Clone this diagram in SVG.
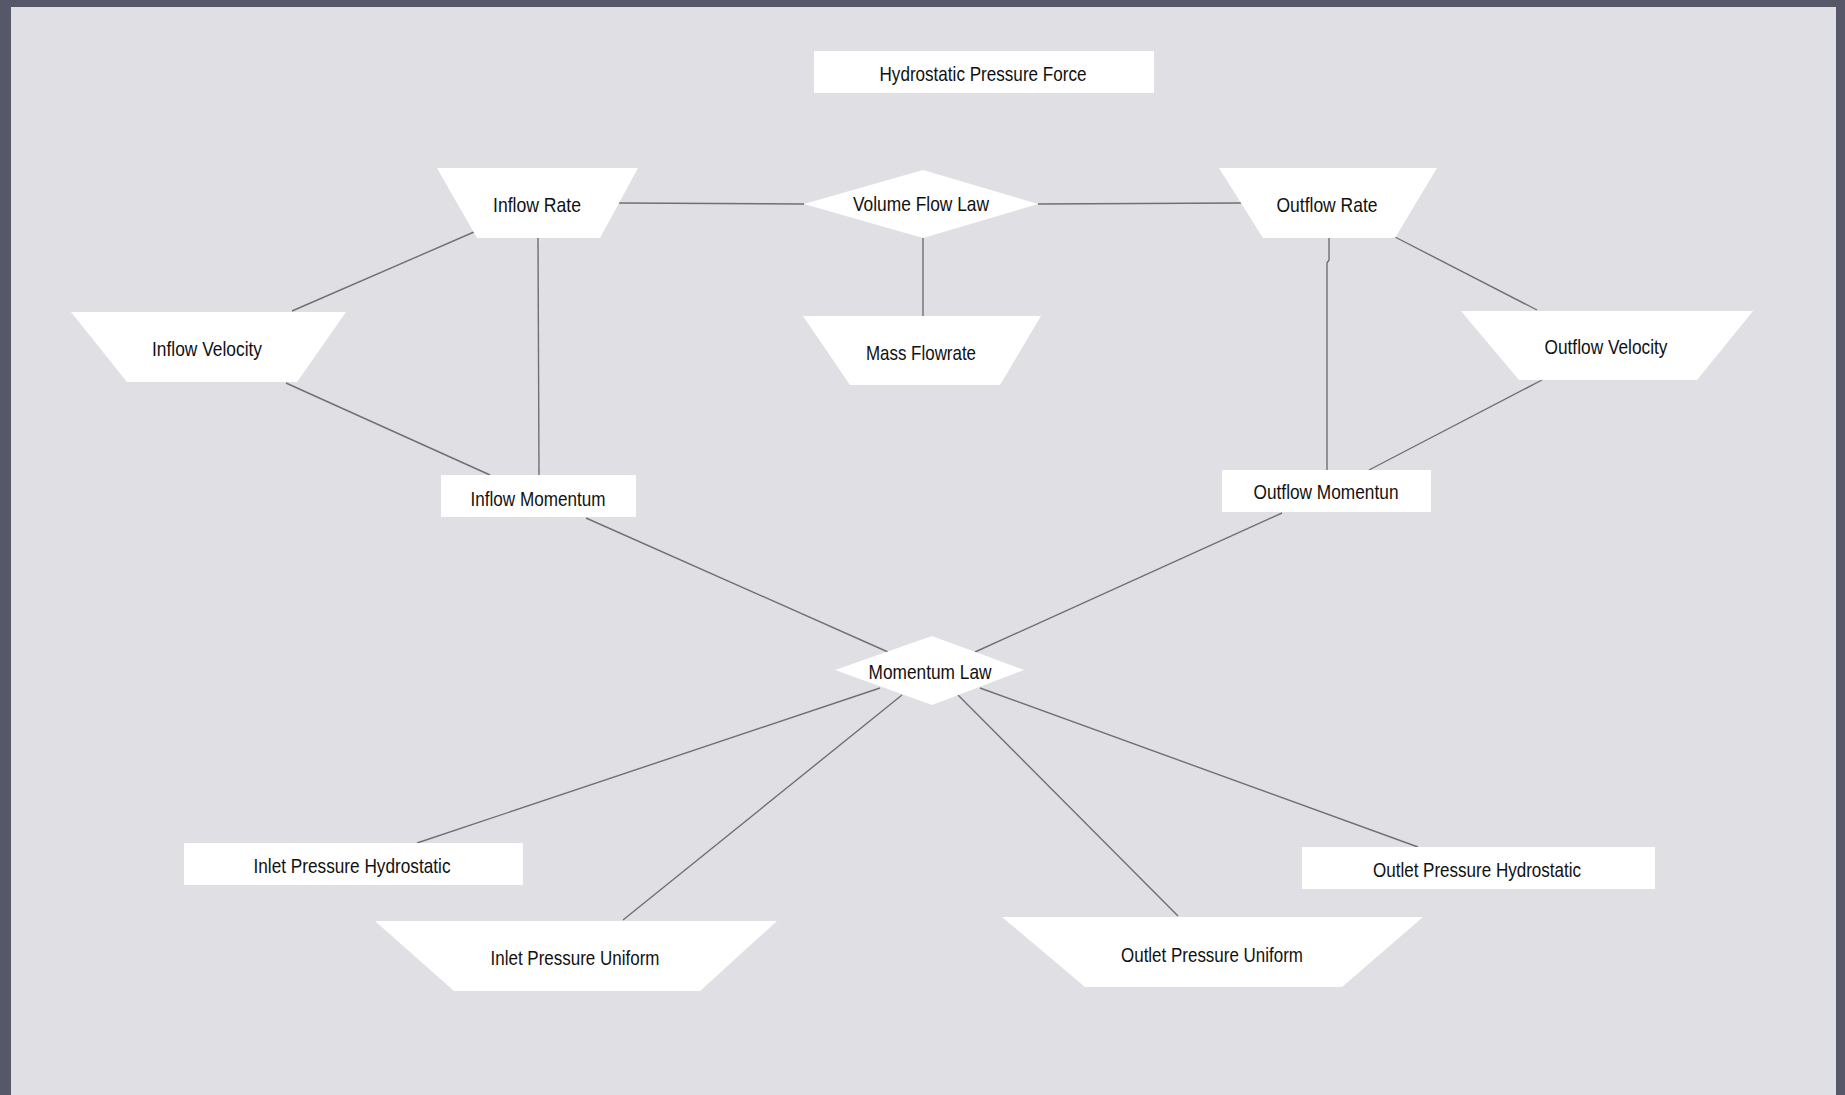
<svg xmlns="http://www.w3.org/2000/svg" width="1845" height="1095" viewBox="0 0 1845 1095">
<style>
.node{fill:#ffffff;stroke:none}
.lbl{font-family:"Liberation Sans",Arial,sans-serif;font-size:21px;fill:#111111;text-anchor:middle}
.conn line,.conn polyline{stroke:#6f6f74;stroke-width:1.4;fill:none}
</style>
<rect x="0" y="0" width="1845" height="1095" fill="#56586a"/>
<rect x="11" y="7" width="1825" height="1088" fill="#e0dfe4"/>
<g id="connectors" class="conn">
<line x1="619" y1="203" x2="804" y2="204"/>
<line x1="1038" y1="204" x2="1241" y2="203"/>
<line x1="923" y1="238" x2="923" y2="316"/>
<line x1="474" y1="232" x2="292" y2="311"/>
<line x1="538" y1="238" x2="539" y2="475"/>
<line x1="286" y1="383" x2="490" y2="475"/>
<line x1="1395" y1="237" x2="1537" y2="310"/>
<polyline points="1329,238 1329,260 1327,263 1327,470"/>
<line x1="1542" y1="380" x2="1369" y2="470"/>
<line x1="586" y1="518" x2="888" y2="652"/>
<line x1="1282" y1="513" x2="975" y2="652"/>
<line x1="880" y1="688" x2="417" y2="843"/>
<line x1="902" y1="695" x2="623" y2="920"/>
<line x1="958" y1="695" x2="1178" y2="916"/>
<line x1="980" y1="688" x2="1418" y2="847"/>
</g>
<g id="hydrostatic-pressure-force">
<rect class="node" x="814" y="51" width="340" height="42"/>
<text class="lbl" x="983" y="81" textLength="207" lengthAdjust="spacingAndGlyphs">Hydrostatic Pressure Force</text>
</g>
<g id="volume-flow-law">
<polygon class="node" points="804,204 923,170 1038,204 923,238"/>
<text class="lbl" x="921" y="211" textLength="136" lengthAdjust="spacingAndGlyphs">Volume Flow Law</text>
</g>
<g id="inflow-rate">
<polygon class="node" points="437,168 638,168 600,238 477,238"/>
<text class="lbl" x="537" y="212" textLength="88" lengthAdjust="spacingAndGlyphs">Inflow Rate</text>
</g>
<g id="outflow-rate">
<polygon class="node" points="1219,168 1437,168 1395,238 1263,238"/>
<text class="lbl" x="1327" y="212" textLength="101" lengthAdjust="spacingAndGlyphs">Outflow Rate</text>
</g>
<g id="mass-flowrate">
<polygon class="node" points="803,316 1041,316 1000,385 850,385"/>
<text class="lbl" x="921" y="360" textLength="110" lengthAdjust="spacingAndGlyphs">Mass Flowrate</text>
</g>
<g id="inflow-velocity">
<polygon class="node" points="71,312 346,312 297,382 127,382"/>
<text class="lbl" x="207" y="356" textLength="110" lengthAdjust="spacingAndGlyphs">Inflow Velocity</text>
</g>
<g id="outflow-velocity">
<polygon class="node" points="1461,311 1753,311 1697,380 1519,380"/>
<text class="lbl" x="1606" y="354" textLength="123" lengthAdjust="spacingAndGlyphs">Outflow Velocity</text>
</g>
<g id="inflow-momentum">
<rect class="node" x="441" y="475" width="195" height="42"/>
<text class="lbl" x="538" y="506" textLength="135" lengthAdjust="spacingAndGlyphs">Inflow Momentum</text>
</g>
<g id="outflow-momentun">
<rect class="node" x="1222" y="470" width="209" height="42"/>
<text class="lbl" x="1326" y="499" textLength="145" lengthAdjust="spacingAndGlyphs">Outflow Momentun</text>
</g>
<g id="momentum-law">
<polygon class="node" points="835,670 932,636 1024,670 932,705"/>
<text class="lbl" x="930" y="679" textLength="123" lengthAdjust="spacingAndGlyphs">Momentum Law</text>
</g>
<g id="inlet-pressure-hydrostatic">
<rect class="node" x="184" y="843" width="339" height="42"/>
<text class="lbl" x="352" y="873" textLength="197" lengthAdjust="spacingAndGlyphs">Inlet Pressure Hydrostatic</text>
</g>
<g id="inlet-pressure-uniform">
<polygon class="node" points="375,921 777,921 700,991 454,991"/>
<text class="lbl" x="575" y="965" textLength="169" lengthAdjust="spacingAndGlyphs">Inlet Pressure Uniform</text>
</g>
<g id="outlet-pressure-uniform">
<polygon class="node" points="1002,917 1423,917 1342,987 1085,987"/>
<text class="lbl" x="1212" y="962" textLength="182" lengthAdjust="spacingAndGlyphs">Outlet Pressure Uniform</text>
</g>
<g id="outlet-pressure-hydrostatic">
<rect class="node" x="1302" y="847" width="353" height="42"/>
<text class="lbl" x="1477" y="877" textLength="208" lengthAdjust="spacingAndGlyphs">Outlet Pressure Hydrostatic</text>
</g>
</svg>
